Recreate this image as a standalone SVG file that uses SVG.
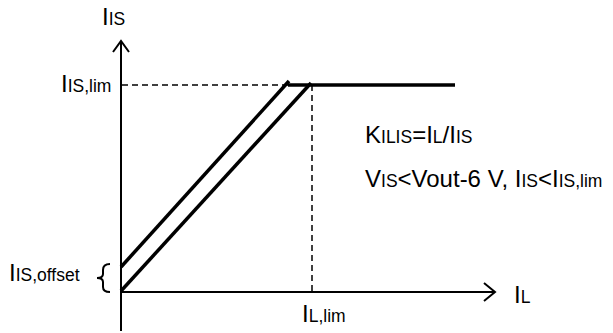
<svg xmlns="http://www.w3.org/2000/svg" width="613" height="333" viewBox="0 0 613 333">
<style>
text{font-family:"Liberation Sans",Arial,sans-serif;fill:#000;font-size:24px}
.s{font-size:17.5px}
.ax{stroke:#000;stroke-width:2;fill:none}
.th{stroke:#000;stroke-width:3.5;fill:none}
.ds{stroke:#000;stroke-width:1.5;fill:none;stroke-dasharray:6 4}
</style>
<rect width="613" height="333" fill="#fff"/>
<g id="connectors">
<line class="ax" x1="121" y1="331" x2="121" y2="41"/>
<polyline class="ax" points="113,52 121,41 129,52"/>
<line class="ax" x1="121" y1="292" x2="494" y2="292"/>
<polyline class="ax" points="484,283 495,292 484,301"/>
<line class="ds" x1="122" y1="85" x2="290" y2="85"/>
<line class="ds" x1="312" y1="85" x2="312" y2="291"/>
<line class="th" x1="288" y1="85" x2="455" y2="85"/>
<line class="th" x1="121" y1="291" x2="311" y2="83"/>
<line class="th" x1="121" y1="267" x2="289" y2="81"/>
<path class="ax" stroke-width="1.5" d="M110,264 Q103,264 103,270 L103,274 Q103,278 97,278 Q103,278 103,282 L103,287 Q103,292 110,292"/>
</g>
<g id="label-iis"><text x="102" y="25">I<tspan class="s">IS</tspan></text></g>
<g id="label-iislim"><text x="61" y="92">I<tspan class="s">IS,lim</tspan></text></g>
<g id="label-iisoffset"><text x="9" y="281">I<tspan class="s">IS,offset</tspan></text></g>
<g id="label-il"><text x="514" y="303">I<tspan class="s">L</tspan></text></g>
<g id="label-illim"><text x="302" y="322">I<tspan class="s">L,lim</tspan></text></g>
<g id="label-kilis"><text x="365" y="143">K<tspan class="s">ILIS</tspan>=I<tspan class="s">L</tspan>/I<tspan class="s">IS</tspan></text></g>
<g id="label-vis"><text x="365" y="187">V<tspan class="s">IS</tspan>&lt;Vout-6 V, I<tspan class="s">IS</tspan>&lt;I<tspan class="s">IS,lim</tspan></text></g>
</svg>
